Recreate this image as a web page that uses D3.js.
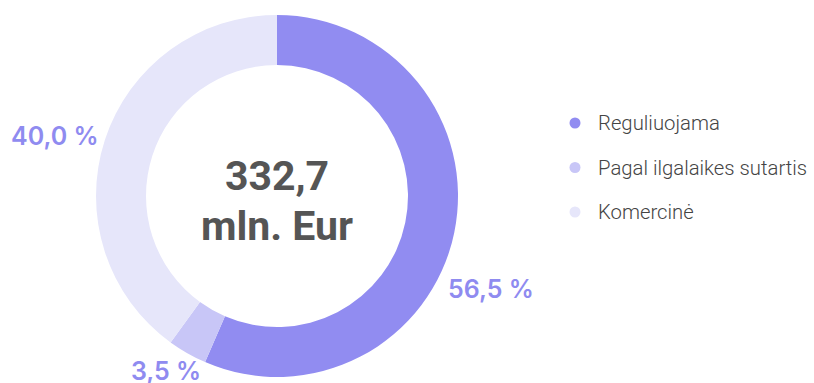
<!DOCTYPE html>
<html>
<head>
<meta charset="utf-8">
<script src="https://cdn.jsdelivr.net/npm/d3@7"></script>
<style>
  html, body { margin: 0; padding: 0; background: #fff; }
  svg { display: block; }
</style>
</head>
<body>
<svg id="chart" width="814" height="383"></svg>
<script>
// Revenue structure by type
const categories = ["Reguliuojama", "Pagal ilgalaikes sutartis", "Komercinė"];
const shares = [56.5, 3.5, 40.0];
const shareLabels = ["56,5 %", "3,5 %", "40,0 %"];
const colors = ["#918cf1", "#c8c6f7", "#e6e6fa"];
const totalLines = ["332,7", "mln. Eur"];
// angular nudges (degrees) and distances for the outside percent labels
const labelNudge = [17, 2.7, 0.5];
const labelDist = [195, 207, 188];

const svg = d3.select("#chart");
const cx = 277, cy = 196;
const outerR = 181, innerR = 131;

const pie = d3.pie().sort(null).value(d => d.value);
const arcs = pie(categories.map((c, i) => ({ name: c, value: shares[i], i })));

const arc = d3.arc().innerRadius(innerR).outerRadius(outerR);

const g = svg.append("g").attr("transform", `translate(${cx},${cy})`);

g.selectAll("path.slice")
  .data(arcs)
  .join("path")
  .attr("class", "slice")
  .attr("d", arc)
  .attr("fill", d => colors[d.data.i]);

// percent labels outside the ring
g.selectAll("text.pct")
  .data(arcs)
  .join("text")
  .attr("class", "pct")
  .each(function(d) {
    const i = d.data.i;
    const a = (d.startAngle + d.endAngle) / 2 + labelNudge[i] * Math.PI / 180;
    const x = Math.sin(a) * labelDist[i];
    const y = -Math.cos(a) * labelDist[i];
    const s = Math.sin(a);
    const anchor = Math.abs(s) < 0.6 ? "middle" : (s > 0 ? "start" : "end");
    d3.select(this)
      .attr("x", x)
      .attr("y", y)
      .attr("dy", "0.35em")
      .attr("text-anchor", anchor);
  })
  .attr("font-family", "Inter, Roboto, sans-serif")
  .attr("font-weight", 600)
  .attr("font-size", 25)
  .attr("fill", "#8f8bf0")
  .text(d => shareLabels[d.data.i]);

// total in the middle
g.selectAll("text.total")
  .data(totalLines)
  .join("text")
  .attr("class", "total")
  .attr("x", 0)
  .attr("y", (d, i) => -6 + i * 50)
  .attr("text-anchor", "middle")
  .attr("font-family", "Roboto, sans-serif")
  .attr("font-weight", 700)
  .attr("font-size", 41)
  .attr("fill", "#555555")
  .text(d => d);

// legend
const legend = svg.append("g").attr("transform", "translate(575,123)");
const item = legend.selectAll("g.item")
  .data(categories)
  .join("g")
  .attr("class", "item")
  .attr("transform", (d, i) => `translate(0,${i * 44.5})`);

item.append("circle")
  .attr("r", 5.5)
  .attr("fill", (d, i) => colors[i]);

item.append("text")
  .attr("x", 23)
  .attr("y", 0)
  .attr("dy", "0.35em")
  .attr("font-family", "Roboto, sans-serif")
  .attr("font-weight", 300)
  .attr("font-size", 20.3)
  .attr("fill", "#444444")
  .text(d => d);
</script>
</body>
</html>
